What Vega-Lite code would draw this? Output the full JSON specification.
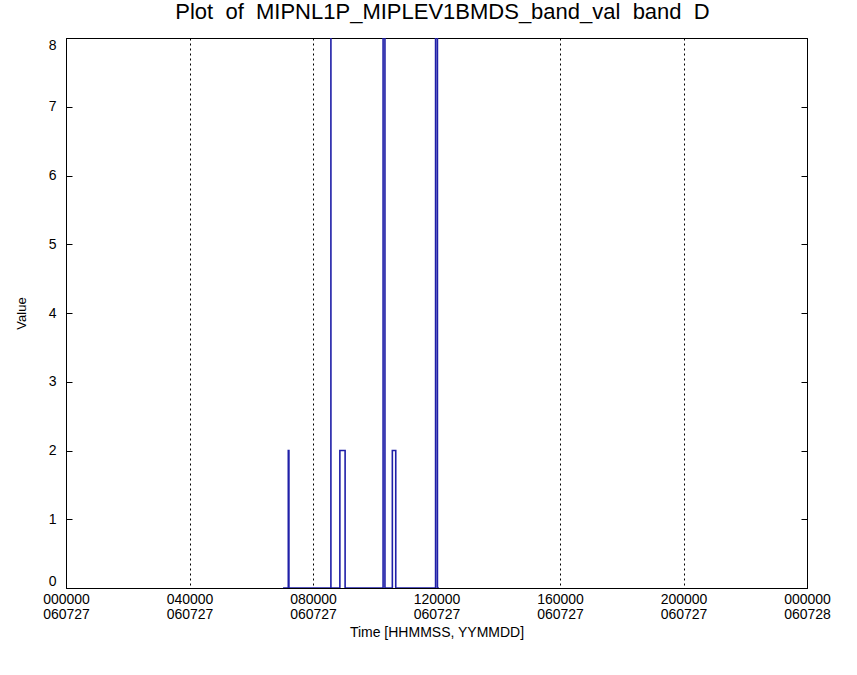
{
  "$schema": "https://vega.github.io/schema/vega-lite/v6.json",
  "width": 741,
  "height": 550,
  "autosize": "none",
  "padding": {"left": 66, "top": 38, "right": 50, "bottom": 87},
  "background": "white",
  "config": {
    "view": {"stroke": "black", "strokeWidth": 1},
    "font": "Liberation Sans"
  },
  "title": {
    "text": "Plot\u00a0\u00a0of\u00a0\u00a0MIPNL1P_MIPLEV1BMDS_band_val\u00a0\u00a0band\u00a0\u00a0D",
    "fontSize": 22,
    "fontWeight": "normal",
    "font": "Liberation Sans",
    "color": "black",
    "offset": 14,
    "anchor": "middle",
    "dx": 6
  },
  "data": {
    "values": [
      {"seq": 1, "hour": 7.03, "value": 0},
      {"seq": 2, "hour": 7.2, "value": 0},
      {"seq": 3, "hour": 7.2, "value": 2},
      {"seq": 4, "hour": 7.22, "value": 2},
      {"seq": 5, "hour": 7.22, "value": 0},
      {"seq": 6, "hour": 8.58, "value": 0},
      {"seq": 7, "hour": 8.58, "value": 12},
      {"seq": 8, "hour": 8.58, "value": 0},
      {"seq": 9, "hour": 8.87, "value": 0},
      {"seq": 10, "hour": 8.87, "value": 2},
      {"seq": 11, "hour": 9.04, "value": 2},
      {"seq": 12, "hour": 9.04, "value": 0},
      {"seq": 13, "hour": 10.27, "value": 0},
      {"seq": 14, "hour": 10.27, "value": 12},
      {"seq": 15, "hour": 10.33, "value": 12},
      {"seq": 16, "hour": 10.33, "value": 0},
      {"seq": 17, "hour": 10.57, "value": 0},
      {"seq": 18, "hour": 10.57, "value": 2},
      {"seq": 19, "hour": 10.68, "value": 2},
      {"seq": 20, "hour": 10.68, "value": 0},
      {"seq": 21, "hour": 11.97, "value": 0},
      {"seq": 22, "hour": 11.97, "value": 12},
      {"seq": 23, "hour": 12.03, "value": 12},
      {"seq": 24, "hour": 12.03, "value": 0},
      {"seq": 25, "hour": 12.08, "value": 0}
    ]
  },
  "layer": [
    {
      "mark": {"type": "line", "color": "#1f1fa8", "strokeWidth": 1.6, "clip": true},
      "encoding": {
        "x": {
          "field": "hour",
          "type": "quantitative",
          "scale": {"domain": [0, 24], "nice": false, "zero": false},
          "axis": {
            "values": [0, 4, 8, 12, 16, 20, 24],
            "grid": true,
            "gridDash": [2, 3],
            "gridColor": "black",
            "gridOpacity": 1,
            "gridWidth": 1,
            "ticks": false,
            "domain": true,
            "domainColor": "black",
            "labelExpr": "datum.value == 24 ? ['000000', '060728'] : [(datum.value < 10 ? '0' : '') + datum.value + '0000', '060727']",
            "labelFontSize": 14,
            "labelColor": "black",
            "labelPadding": 4,
            "labelLineHeight": 15,
            "labelFlush": false,
            "labelOverlap": false,
            "title": "Time [HHMMSS, YYMMDD]",
            "titleFontSize": 14,
            "titleFontWeight": "normal",
            "titleColor": "black",
            "titlePadding": 4
          }
        },
        "y": {
          "field": "value",
          "type": "quantitative",
          "scale": {"domain": [0, 8], "nice": false},
          "axis": {
            "orient": "left",
            "values": [0, 1, 2, 3, 4, 5, 6, 7, 8],
            "grid": false,
            "tickSize": -6,
            "tickColor": "black",
            "domainColor": "black",
            "labelFontSize": 14,
            "labelColor": "black",
            "labelPadding": 16,
            "labelFlush": true,
            "title": "Value",
            "titleFontSize": 13,
            "titleFontWeight": "normal",
            "titleColor": "black",
            "titlePadding": 20
          }
        },
        "order": {"field": "seq", "type": "quantitative"}
      }
    },
    {
      "mark": {"type": "rule", "opacity": 0, "clip": true},
      "encoding": {
        "y": {
          "field": "value",
          "type": "quantitative",
          "axis": {
            "orient": "right",
            "values": [0, 1, 2, 3, 4, 5, 6, 7, 8],
            "grid": false,
            "labels": false,
            "tickSize": -6,
            "tickColor": "black",
            "domainColor": "black",
            "title": null
          }
        }
      }
    }
  ],
  "resolve": {"axis": {"y": "independent"}}
}
